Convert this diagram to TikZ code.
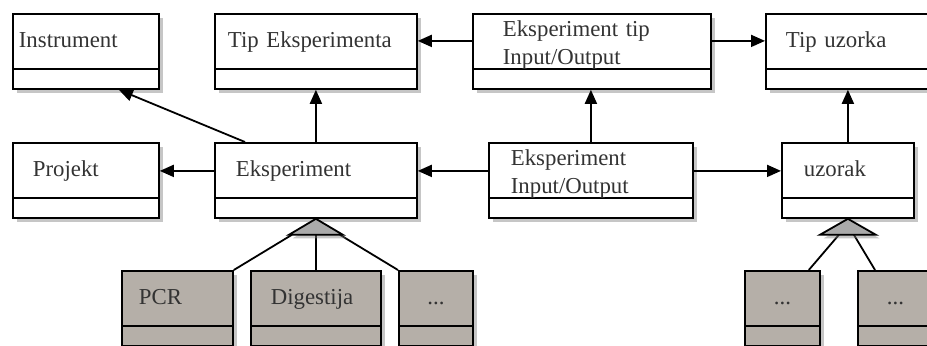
\documentclass[tikz,border=0pt]{standalone}
\usepackage{fontspec}
\setmainfont{Liberation Serif}
\usetikzlibrary{arrows.meta}
\usetikzlibrary{shadows}
\definecolor{subfill}{HTML}{B5AFA8}
\definecolor{genfill}{HTML}{AAAAAA}
\tikzset{cls/.style 2 args={draw, line width=0.9pt, fill=white, anchor=north west,
  minimum width=#1, text width=#1-2*#2, inner xsep=#2, inner ysep=0pt,
  minimum height=37.5pt, align=left, text height=8pt, text depth=11.5pt,
  text=black!80, font=\fontsize{11.4}{14}\selectfont,
  drop shadow={opacity=0.45, shadow xshift=1.8pt, shadow yshift=-1.8pt},
  path picture={\draw [line width=0.9pt] ([yshift=10pt]path picture bounding box.south west)
    -- ([yshift=10pt]path picture bounding box.south east);}}}
\tikzset{twoline/.style={text height=8pt, text depth=23pt}}
\tikzset{sub/.style={fill=subfill, align=center}}
\tikzset{conn/.style={line width=0.9pt, -{Triangle[length=7pt,width=6pt]}}}
\tikzset{gen/.style={line width=0.9pt, fill=genfill,
  drop shadow={opacity=0.45, shadow xshift=1.8pt, shadow yshift=-1.8pt}}}

\begin{document}
\begin{tikzpicture}[x=0.5pt, y=-0.5pt]
      \useasboundingbox (0, 0) rectangle (927, 345);

      % top row
      \node [cls={73pt}{3pt}] (instr) at (12, 13) {Instrument};
      \node [cls={101pt}{6.5pt}] (tipexp) at (214, 13) {Tip Eksperimenta};
      \node [cls={119pt}{15pt}, twoline] (etio) at (472, 13) {Eksperiment tip\\Input/Output};
      \node [cls={85pt}{10pt}] (tipuz) at (765, 13) {Tip uzorka};

      % middle row
      \node [cls={73pt}{10pt}] (proj) at (12, 142) {Projekt};
      \node [cls={101pt}{10.5pt}] (eksp) at (214, 142) {Eksperiment};
      \node [cls={102pt}{11pt}, twoline] (eio) at (488, 142) {Eksperiment\\Input/Output};
      \node [cls={66pt}{11pt}] (uzor) at (781, 142) {uzorak};

      % subclasses
      \node [cls={55.5pt}{8.5pt}, sub, align=left] (pcr) at (121, 270) {PCR};
      \node [cls={65pt}{10pt}, sub, align=left] (dig) at (250, 270) {Digestija};
      \node [cls={37pt}{0pt}, sub] (more1) at (398, 270) {...};
      \node [cls={37.5pt}{0pt}, sub] (more2) at (744, 270) {...};
      \node [cls={37.5pt}{0pt}, sub] (more3) at (857, 270) {...};

      \draw [conn] ([xshift=15.5pt]eksp.north west) -- ([xshift=16.5pt]instr.south);
      \draw [conn] (eksp.north) -- (tipexp.south);
      \draw [conn] ([yshift=4.75pt]eksp.west) -- ([yshift=4.75pt]proj.east);
      \draw [conn] ([yshift=4.75pt]eio.west) -- ([yshift=4.75pt]eksp.east);
      \draw [conn] ([yshift=4.75pt]eio.east) -- ([yshift=4.75pt]uzor.west);
      \draw [conn] (eio.north) -- (eio.north |- etio.south);
      \draw [conn] (uzor.north) -- (uzor.north |- tipuz.south);
      \draw [conn] ([yshift=5.25pt]etio.west) -- ([yshift=5.25pt]tipexp.east);
      \draw [conn] ([yshift=5.25pt]etio.east) -- ([yshift=5.25pt]tipuz.west);

      \coordinate (eksp-gen) at ([yshift=-8pt]eksp.south);
      \draw [line width=0.9pt] (pcr.north east) -- ([xshift=-12pt]eksp-gen);
      \draw [line width=0.9pt] (dig.north) -- (eksp-gen);
      \draw [line width=0.9pt] (more1.north west) -- ([xshift=12pt]eksp-gen);
      \draw [gen] (eksp.south) -- ([xshift=-13.5pt]eksp-gen) -- ([xshift=13.5pt]eksp-gen) -- cycle;

      \coordinate (uzor-gen) at ([yshift=-8pt]uzor.south);
      \draw [line width=0.9pt] ([xshift=-6pt]more2.north east) -- ([xshift=-4.5pt]uzor-gen);
      \draw [line width=0.9pt] ([xshift=9pt]more3.north west) -- ([xshift=3pt]uzor-gen);
      \draw [gen] (uzor.south) -- ([xshift=-14pt]uzor-gen) -- ([xshift=14pt]uzor-gen) -- cycle;

    \end{tikzpicture}
\end{document}
